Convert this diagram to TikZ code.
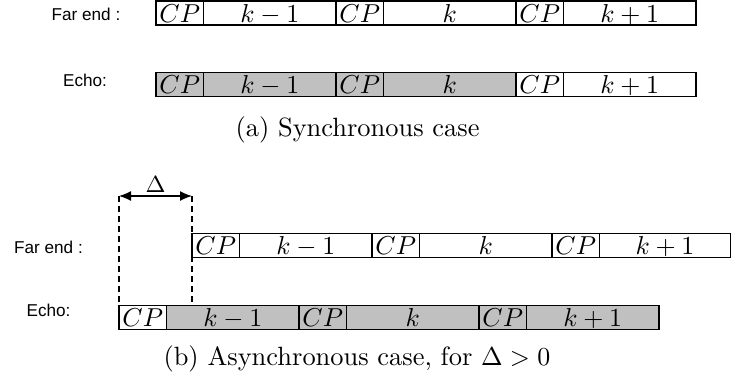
\documentclass[tikz,border=0pt]{standalone}
\usepackage{fontspec}
\newfontfamily\labelfont{Liberation Sans}
\usetikzlibrary{arrows.meta}
\definecolor{echogray}{RGB}{192,192,192}
% one drawing unit = one pixel of the final 732 x 383 layout
\newcommand\px{0.3846bp}
\newcommand\bodysize{\fontsize{10.2pt}{12pt}\selectfont}
\tikzset{
  cell/.style={draw, line width=1.3*\px, inner sep=0pt, outer sep=0pt,
    minimum height=24*\px, text height=0.7em, text depth=0pt,
    anchor=west, font=\bodysize},
  cp/.style={cell, minimum width=47.5*\px},
  sym/.style={cell, minimum width=132.5*\px},
  echo/.style={fill=echogray},
  rowlabel/.style={font=\labelfont\fontsize{6.6bp}{8bp}\selectfont,
    anchor=base, inner sep=0pt},
  caption/.style={font=\bodysize, anchor=base west, inner sep=0pt},
  guide/.style={line width=1.2*\px, dash pattern=on 6*\px off 4*\px},
  span/.style={line width=1.3*\px,
    {Latex[length=12*\px,width=10*\px]}-{Latex[length=12*\px,width=10*\px]}},
}
\begin{document}
\begin{tikzpicture}[x=\px,y=-\px]
\useasboundingbox (0,0) rectangle (732,383);

% (a) synchronous: far-end signal
\node[rowlabel] (lfa) at (86,20) {Far end :};
\node[cp]  (fa1) at (156,13) {$CP$};
\node[sym] (fa2) at (fa1.east) {$k-1$};
\node[cp]  (fa3) at (fa2.east) {$CP$};
\node[sym] (fa4) at (fa3.east) {$k$};
\node[cp]  (fa5) at (fa4.east) {$CP$};
\node[sym] (fa6) at (fa5.east) {$k+1$};

% (a) synchronous: echo, aligned with the far end
\node[rowlabel] (lea) at (85,86) {Echo:};
\node[cp,echo]  (ea1) at (156,84.5) {$CP$};
\node[sym,echo] (ea2) at (ea1.east) {$k-1$};
\node[cp,echo]  (ea3) at (ea2.east) {$CP$};
\node[sym,echo] (ea4) at (ea3.east) {$k$};
\node[cp]       (ea5) at (ea4.east) {$CP$};
\node[sym]      (ea6) at (ea5.east) {$k+1$};

\node[caption] (capa) at (235,136) {(a) Synchronous case};

% (b) asynchronous: far-end signal, delayed by Delta
\node[rowlabel] (lfb) at (48.5,253) {Far end :};
\node[cp]  (fb1) at (192,245.5) {$CP$};
\node[sym] (fb2) at (fb1.east) {$k-1$};
\node[cp]  (fb3) at (fb2.east) {$CP$};
\node[sym] (fb4) at (fb3.east) {$k$};
\node[cp]  (fb5) at (fb4.east) {$CP$};
\node[cell, minimum width=131*\px] (fb6) at (fb5.east) {$k+1$};

% (b) asynchronous: echo
\node[rowlabel] (leb) at (48.5,316) {Echo:};
\node[cp]       (eb1) at (119,317.5) {$CP$};
\node[sym,echo] (eb2) at (eb1.east) {$k-1$};
\node[cp,echo]  (eb3) at (eb2.east) {$CP$};
\node[sym,echo] (eb4) at (eb3.east) {$k$};
\node[cp,echo]  (eb5) at (eb4.east) {$CP$};
\node[sym,echo] (eb6) at (eb5.east) {$k+1$};

% offset between the two signals
\coordinate (dl) at (eb1.north west |- 0,196);
\coordinate (dr) at (fb1.west |- 0,196);
\draw[guide] (dl) -- (eb1.north west);
\draw[guide] (dr) -- (dr |- eb1.north);
\draw[span] (dl) -- (dr)
  node[midway, anchor=south, inner sep=0pt, yshift=3*\px,
       font=\fontsize{9pt}{11pt}\selectfont] (delta) {$\Delta$};

\node[caption] (capb) at (163,365) {(b) Asynchronous case, for $\Delta > 0$};
\end{tikzpicture}
\end{document}
